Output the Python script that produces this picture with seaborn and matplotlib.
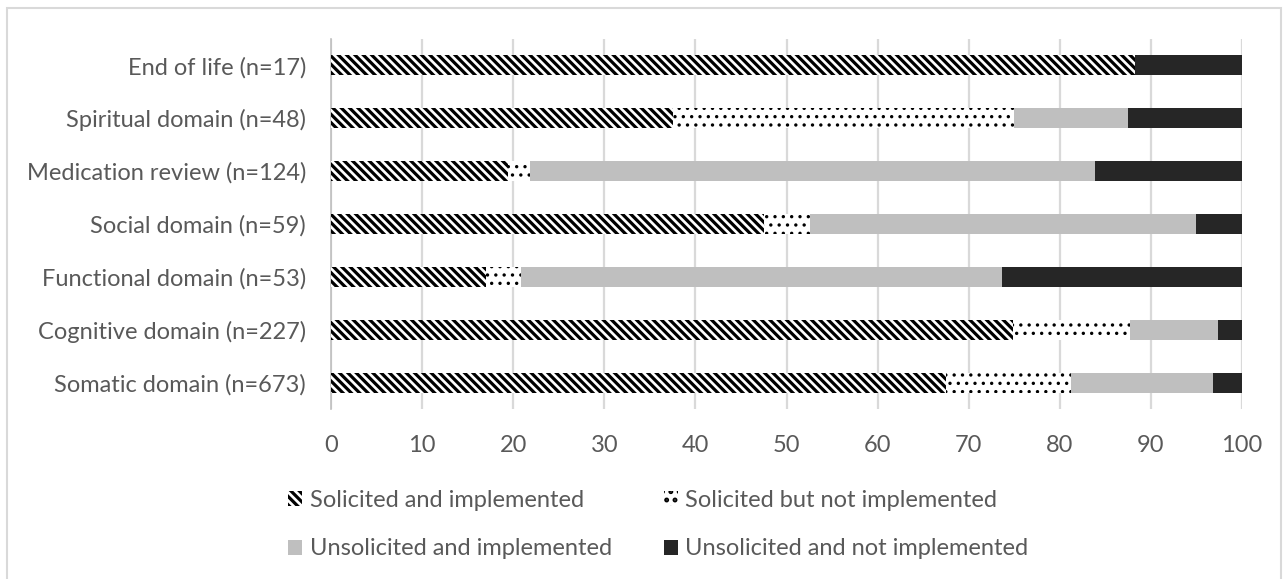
import matplotlib
matplotlib.use("Agg")
import matplotlib.pyplot as plt
import seaborn as sns
import pandas as pd
import numpy as np
from matplotlib.patches import Patch, Rectangle

categories = [
    "End of life (n=17)",
    "Spiritual domain (n=48)",
    "Medication review (n=124)",
    "Social domain (n=59)",
    "Functional domain (n=53)",
    "Cognitive domain (n=227)",
    "Somatic domain (n=673)",
]
solicited_impl = [88.2, 37.5, 19.4, 47.5, 17.0, 74.9, 67.5]
solicited_not_impl = [0.0, 37.5, 2.4, 5.1, 3.8, 12.8, 13.7]
unsolicited_impl = [0.0, 12.5, 62.1, 42.4, 52.8, 9.7, 15.6]
unsolicited_not_impl = [11.8, 12.5, 16.1, 5.1, 26.4, 2.6, 3.3]
series_names = [
    "Solicited and implemented",
    "Solicited but not implemented",
    "Unsolicited and implemented",
    "Unsolicited and not implemented",
]
x_ticks = [0, 10, 20, 30, 40, 50, 60, 70, 80, 90, 100]

sns.set_style("white")
plt.rcParams["font.family"] = ["Lato", "DejaVu Sans"]
text_col = "#595959"
fs = 17

df = pd.DataFrame({
    "category": categories,
    "s1": solicited_impl,
    "s2": solicited_not_impl,
    "s3": unsolicited_impl,
    "s4": unsolicited_not_impl,
})
df["c1"] = df["s1"]
df["c2"] = df["c1"] + df["s2"]
df["c3"] = df["c2"] + df["s3"]
df["c4"] = df["c3"] + df["s4"]

fig = plt.figure(figsize=(12.88, 5.79), dpi=100)
ax = fig.add_axes([0.257, 0.2936, 0.7073, 0.639])

# draw cumulative totals back to front so each segment shows through
styles = [
    ("c4", "#262626", None, 1.0),
    ("c3", "#BFBFBF", None, 1.0),
    ("c2", "white", "..", 1.2),
    ("c1", "white", "\\\\\\\\", 2.3),
]
for col, face, hatch, hlw in styles:
    plt.rcParams["hatch.linewidth"] = hlw
    n_before = len(ax.patches)
    sns.barplot(data=df, x=col, y="category", orient="h", color=face,
                saturation=1, width=0.38, linewidth=0, edgecolor="black",
                hatch=hatch, ax=ax, zorder=3)
    for p in ax.patches[n_before:]:
        if hasattr(p, "set_hatch_linewidth"):
            p.set_hatch_linewidth(hlw)

ax.set_xlim(0, 100)
ax.set_xticks(x_ticks)
ax.set_xlabel("")
ax.set_ylabel("")
ax.set_ylim(len(categories) - 0.5, -0.5)
ax.grid(axis="x", color="#D9D9D9", linewidth=1.6, zorder=0)
ax.set_axisbelow(True)
for s in ["top", "right", "bottom"]:
    ax.spines[s].set_visible(False)
ax.spines["left"].set_color("#BFBFBF")
ax.spines["left"].set_linewidth(1.2)
ax.set_yticks(np.arange(-0.5, len(categories)), minor=True)
ax.tick_params(axis="y", which="minor", length=6, color="#BFBFBF", width=1.2)
ax.tick_params(axis="y", which="major", length=0, pad=18, labelsize=fs,
               labelcolor=text_col)
ax.tick_params(axis="x", length=0, pad=19, labelsize=fs, labelcolor=text_col)

handles = [
    Patch(facecolor="white", edgecolor="black", hatch="\\\\\\\\", linewidth=0),
    Patch(facecolor="#BFBFBF", linewidth=0),
    Patch(facecolor="white", edgecolor="black", hatch="..", linewidth=0),
    Patch(facecolor="#262626", linewidth=0),
]
labels = [series_names[0], series_names[2], series_names[1], series_names[3]]
fig.legend(handles, labels, loc="upper center", ncol=2,
           bbox_to_anchor=(0.511, 0.19), frameon=False, fontsize=fs,
           labelcolor=text_col, handlelength=0.6, handleheight=0.6,
           handletextpad=0.3, columnspacing=2.2, labelspacing=1.15)

fig.patches.append(Rectangle((7 / 1288, -0.05), 1274 / 1288, 1.05 - 8 / 579,
                             transform=fig.transFigure, fill=False,
                             edgecolor="#D9D9D9", linewidth=1.5))

fig.savefig("out.png", dpi=100)
